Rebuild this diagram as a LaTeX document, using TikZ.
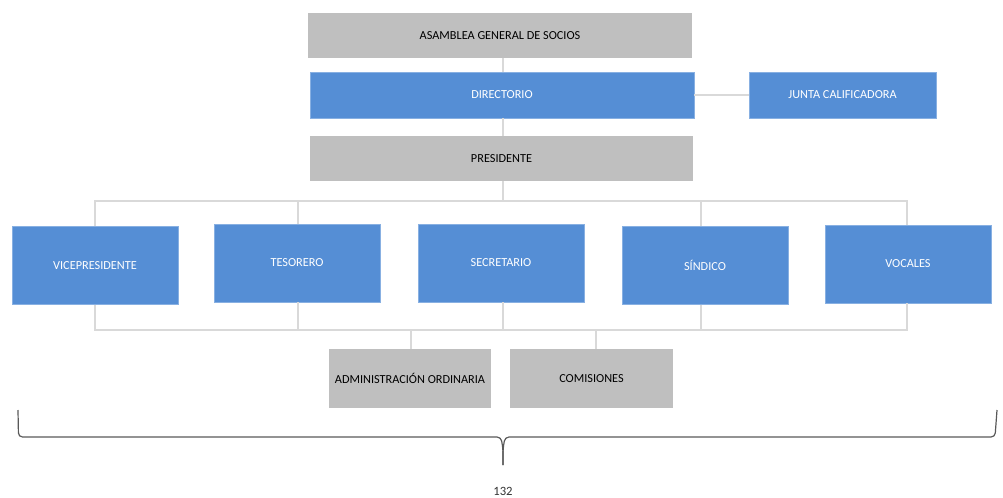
\documentclass[tikz,border=0pt]{standalone}
\usepackage{fontspec}
\setmainfont{Carlito}
\begin{document}
\begin{tikzpicture}[x=0.75pt,y=-0.75pt,
  box/.style={rectangle, inner sep=0pt, minimum width=#1*0.75pt, font=\fontsize{9.2}{10}\selectfont},
  bluebox/.style={box=#1, fill=boxblue, draw=boxblue!70!white, line width=0.6pt, text=white},
  graybox/.style={box=#1, fill=boxgray, text=black},
  conn/.style={draw=linegray, line width=1.1pt},
  brace/.style={draw=bracegray, line width=0.9pt, rounded corners=3pt}]
\definecolor{boxblue}{HTML}{558ED5}
\definecolor{boxgray}{HTML}{BFBFBF}
\definecolor{linegray}{HTML}{D9D9D9}
\definecolor{bracegray}{HTML}{595959}
\useasboundingbox (0,0) rectangle (1003,497);
% top
\node[graybox=384, minimum height=45*0.75pt] (asamblea) at (500,35.5) {ASAMBLEA GENERAL DE SOCIOS};
\node[bluebox=384, minimum height=46*0.75pt] (directorio) at (502,95) {DIRECTORIO};
\node[bluebox=187, minimum height=46*0.75pt] (junta) at (842.5,95) {JUNTA CALIFICADORA};
\node[graybox=383, minimum height=45*0.75pt] (presidente) at (501.5,158.5) {PRESIDENTE};
% middle
\node[bluebox=166, minimum height=78*0.75pt] (vice) at (95,265.5) {VICEPRESIDENTE};
\node[bluebox=166, minimum height=78*0.75pt] (teso) at (297,263) {TESORERO};
\node[bluebox=166, minimum height=78*0.75pt] (secr) at (501,263) {SECRETARIO};
\node[bluebox=166, minimum height=78*0.75pt] (sind) at (705,265.5) {SÍNDICO};
\node[bluebox=166, minimum height=78*0.75pt] (voca) at (908,264) {VOCALES};
% bottom
\node[graybox=162, minimum height=59*0.75pt] (admin) at (410,378.5) {ADMINISTRACIÓN ORDINARIA};
\node[graybox=163, minimum height=59*0.75pt] (comis) at (591.5,378.5) {COMISIONES};
% bus coordinates
\coordinate (tb) at (503,201);
\coordinate (bb) at (503,330);
\draw[conn] (asamblea.south -| 503,0) -- (directorio.north -| 503,0);
\draw[conn] (directorio.south -| 503,0) -- (presidente.north -| 503,0);
\draw[conn] (directorio.east) -- (junta.west);
\draw[conn] (presidente.south -| 503,0) -- (tb);
\draw[conn] (vice.north -| 95,0) |- (tb) -| (voca.north -| 907,0);
\draw[conn] (teso.north -| 298,0) -- (298,201);
\draw[conn] (sind.north -| 701,0) -- (701,201);
\draw[conn] (vice.south -| 95,0) |- (bb) -| (voca.south -| 907,0);
\draw[conn] (teso.south -| 298,0) -- (298,330);
\draw[conn] (secr.south -| 503,0) -- (bb);
\draw[conn] (sind.south -| 701,0) -- (701,330);
\draw[conn] (admin.north -| 411,0) -- (411,330);
\draw[conn] (comis.north -| 596,0) -- (596,330);
% brace
\coordinate (bl) at (18,410);
\coordinate (br) at (997,410);
\coordinate (btip) at (503,465);
\draw[brace] (bl) -- (18.5,437) -- (501,437) -- (503,449) -- (btip);
\draw[brace] (btip) -- (503,449) -- (505,437) -- (995,437) -- (br);
\node[font=\fontsize{9.5}{10}\selectfont, text=black!80] (page) at (503,491) {132};
\end{tikzpicture}
\end{document}
